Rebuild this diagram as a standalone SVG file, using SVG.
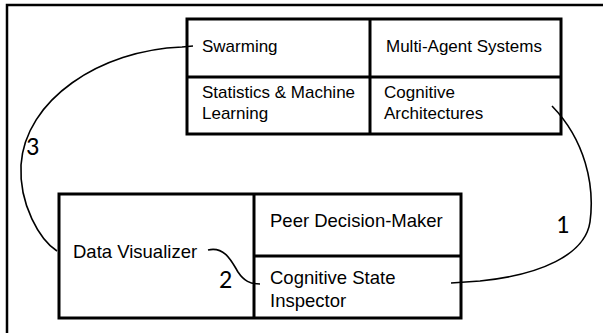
<svg xmlns="http://www.w3.org/2000/svg" width="603" height="333" viewBox="0 0 603 333">
<style>
.box{fill:none;stroke:#000;stroke-width:3}
.t{font-family:"Liberation Sans",Arial,sans-serif;font-size:17px;fill:#000}
.tb{font-family:"Liberation Sans",Arial,sans-serif;font-size:18.5px;fill:#000}
.num{font-family:"Carlito","Open Sans","Liberation Sans",sans-serif;font-size:26px;fill:#000}
.c{fill:none;stroke:#000;stroke-width:1.6}
</style>
<rect width="603" height="333" fill="#fff"/>
<path d="M7,333 V5 H603" fill="none" stroke="#000" stroke-width="2.5"/>
<g id="top-box">
<rect class="box" x="187" y="19" width="374" height="115"/>
<line class="box" x1="370" y1="19" x2="370" y2="134"/>
<line class="box" x1="187" y1="77" x2="561" y2="77"/>
<text class="t" x="202" y="52">Swarming</text>
<text class="t" x="386" y="52">Multi-Agent Systems</text>
<text class="t" x="202" y="98">Statistics &amp; Machine</text>
<text class="t" x="202" y="119">Learning</text>
<text class="t" x="384" y="98">Cognitive</text>
<text class="t" x="384" y="119">Architectures</text>
</g>
<g id="bottom-box">
<rect class="box" x="59" y="194" width="402" height="124"/>
<line class="box" x1="254" y1="194" x2="254" y2="318"/>
<line class="box" x1="254" y1="256" x2="461" y2="256"/>
<text class="tb" x="270" y="227">Peer Decision-Maker</text>
<text class="tb" x="73" y="258">Data Visualizer</text>
<text class="tb" x="270" y="284">Cognitive State</text>
<text class="tb" x="270" y="307">Inspector</text>
</g>
<g id="connectors">
<path class="c" d="M193,46 L182,47 C100,50 25,100 21,165 C19,205 40,240 57,251"/>
<path class="c" d="M208,250 C225,246 232,262 238,272 C244,281 250,284 260,284"/>
<path class="c" d="M451,283 L480,281 C540,275 585,255 590,222 C595,185 585,140 552,106"/>
<text class="num" x="26" y="155">3</text>
<text class="num" x="219" y="288">2</text>
<text class="num" x="556" y="233">1</text>
</g>
</svg>
